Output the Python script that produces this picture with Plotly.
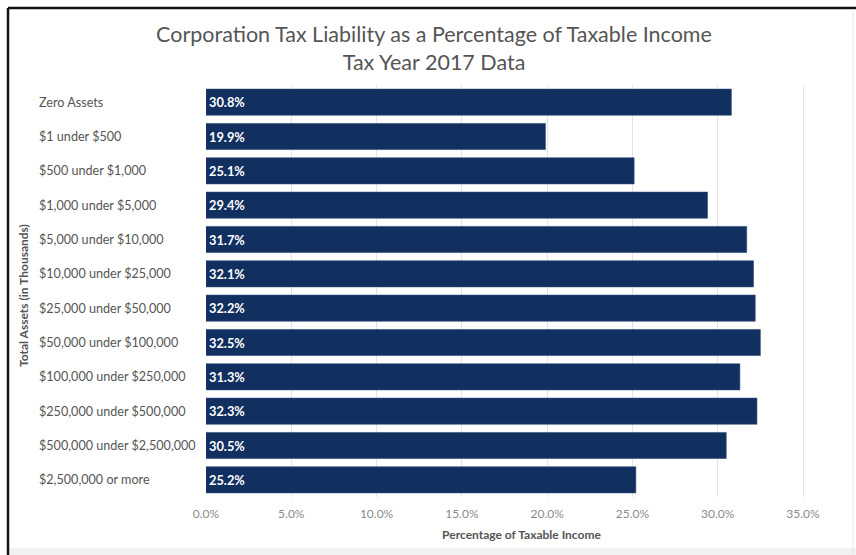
import plotly.graph_objects as go

# Asset-size classes (in thousands of dollars) and tax liability as % of taxable income
asset_classes = [
    "Zero Assets",
    "$1 under $500",
    "$500 under $1,000",
    "$1,000 under $5,000",
    "$5,000 under $10,000",
    "$10,000 under $25,000",
    "$25,000 under $50,000",
    "$50,000 under $100,000",
    "$100,000 under $250,000",
    "$250,000 under $500,000",
    "$500,000 under $2,500,000",
    "$2,500,000 or more",
]
tax_pct = [30.8, 19.9, 25.1, 29.4, 31.7, 32.1, 32.2, 32.5, 31.3, 32.3, 30.5, 25.2]

x_ticks = [0, 5, 10, 15, 20, 25, 30, 35]
x_tick_text = [f"{v:.1f}%" for v in x_ticks]

W, H = 856, 555
L, R, T, B = 206, 19, 85, 58
plot_w = W - L - R
plot_h = H - T - B


def px_x(px):
    return (px - L) / plot_w


def px_y(py):
    return (H - B - py) / plot_h


FONT = "Lato"
NAVY = "#112f5f"

fig = go.Figure(
    go.Bar(
        x=tax_pct,
        y=asset_classes,
        orientation="h",
        marker=dict(color=NAVY, line=dict(color="#2d4b7a", width=0.6)),
        text=[f"{v:.1f}%" for v in tax_pct],
        textposition="inside",
        insidetextanchor="start",
        textfont=dict(family=FONT, size=12.8, color="white", weight="bold"),
        cliponaxis=False,
        hoverinfo="skip",
    )
)

# Left-aligned category labels
for cat in asset_classes:
    fig.add_annotation(
        x=px_x(37), xref="paper", y=cat, yref="y",
        text=cat, showarrow=False, xanchor="left", yanchor="middle",
        font=dict(family=FONT, size=12.6, color="#555555"),
    )

# Vertical axis title
fig.add_annotation(
    x=px_x(23), xref="paper", y=px_y(296), yref="paper",
    text="Total Assets (in Thousands)", textangle=-90, showarrow=False,
    xanchor="center", yanchor="middle",
    font=dict(family=FONT, size=12, color="#555555", weight="bold"),
)

# Outer frame: dark top/left edges, faint right edge, grey strip at the bottom
fig.add_shape(type="rect", xref="paper", yref="paper",
              x0=px_x(8), x1=px_x(856), y0=px_y(555), y1=px_y(548),
              fillcolor="#f1f1f1", line=dict(width=0), layer="below")
fig.add_shape(type="line", xref="paper", yref="paper",
              x0=px_x(8), x1=px_x(8), y0=px_y(555), y1=px_y(8),
              line=dict(color="#111111", width=2.5))
fig.add_shape(type="line", xref="paper", yref="paper",
              x0=px_x(8), x1=px_x(856), y0=px_y(8), y1=px_y(8),
              line=dict(color="#111111", width=2.5))
fig.add_shape(type="line", xref="paper", yref="paper",
              x0=px_x(853), x1=px_x(853), y0=px_y(555), y1=px_y(9),
              line=dict(color="#e6e6e6", width=1))

fig.update_layout(
    width=W, height=H,
    margin=dict(l=L, r=R, t=T, b=B),
    paper_bgcolor="white", plot_bgcolor="white",
    showlegend=False,
    bargap=0.24,
    title=dict(
        text="Corporation Tax Liability as a Percentage of Taxable Income<br>Tax Year 2017 Data",
        x=434 / W, xanchor="center", xref="container",
        y=1 - 42 / H, yanchor="middle", yref="container",
        font=dict(family=FONT, size=21.5, color="#555555"),
    ),
    xaxis=dict(
        range=[0, (W - R - L) / ((803 - 206) / 35)],
        tickvals=x_ticks, ticktext=x_tick_text,
        showgrid=True, gridcolor="#e3e3e3", gridwidth=1,
        zeroline=False, showline=False, ticks="",
        ticklabelstandoff=8,
        tickfont=dict(family=FONT, size=12, color="#8a8a8a"),
        title=dict(text="Percentage of Taxable Income", standoff=10,
                   font=dict(family=FONT, size=12, color="#555555", weight="bold")),
        fixedrange=True,
    ),
    yaxis=dict(
        categoryorder="array", categoryarray=asset_classes,
        autorange="reversed", showticklabels=False,
        showgrid=False, zeroline=False, showline=False, ticks="",
        fixedrange=True,
    ),
)

fig.write_html("out.html")
